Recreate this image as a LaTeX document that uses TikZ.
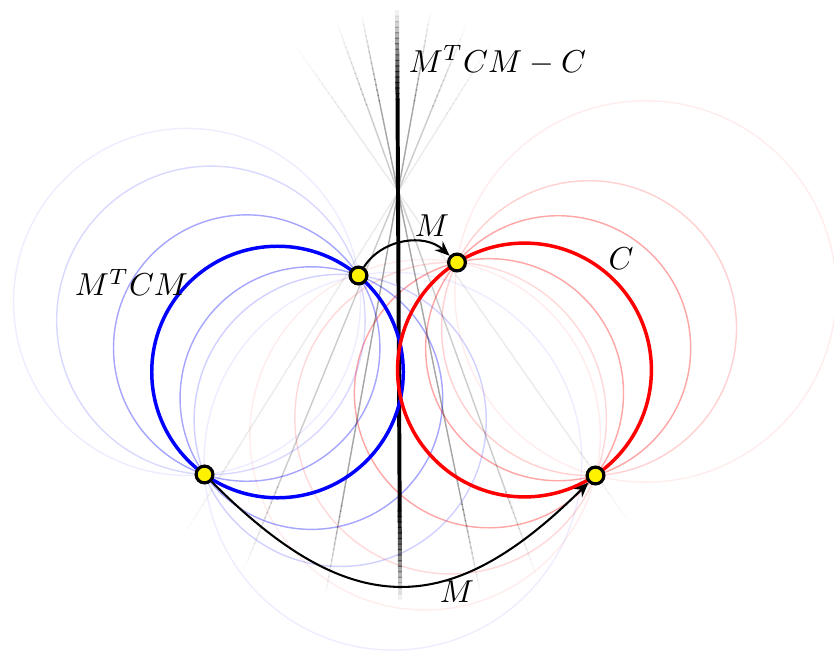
\documentclass[tikz,border=0pt]{standalone}
\usepackage{amsmath, amssymb}
\usepackage{tikz}
\usetikzlibrary{calc, arrows.meta}
\usepackage{tkz-euclide}
\tikzset{
  pencil/.style={line width=0.45pt},
  mapdot/.style={circle, draw=black, fill=yellow, line width=1pt, inner sep=0pt, minimum size=5.3pt},
  maparrow/.style={-{Stealth[length=4.7pt, width=3.8pt]}, line width=0.65pt}
}

\begin{document}
\begin{tikzpicture}[scale=0.554]
                \useasboundingbox (-7.96,-5.64) rectangle (8.72,7.4);
                \tkzDefPoints{-2.41/-0.04/O_b, 2.53/0/O_r, -0.79/1.89/Q_1, -3.87/-2.09/Q_2, 1.18/2.15/P_1, 3.95/-2.11/P_2, 0/3.56/R}
                \tkzDefMidPoint(Q_1,Q_2) \tkzGetPoint{M_b}
                \tkzDefMidPoint(P_1,P_2) \tkzGetPoint{M_r}
                \foreach \k/\o in {0.35/0.35, 0.71/0.15, 0.95/0.07, -0.3/0.35, -0.59/0.18, -1.12/0.07}{
                    \tkzDefPointWith[orthogonal, K=\k](M_b,Q_1) \tkzGetPoint{c}
                    \tkzDrawCircle[pencil, blue, opacity=\o](c,Q_1)
                    \tkzDefPointWith[orthogonal, K=\k](M_r,P_1) \tkzGetPoint{c}
                    \tkzDrawCircle[pencil, red, opacity=\o](c,P_1)
                }
                \foreach \a/\o/\w in {-10.2/0.35/0.45pt, 11.6/0.35/0.45pt, -22.2/0.2/0.45pt, 19.8/0.2/0.45pt, -32/0.08/0.45pt, 35/0.08/0.45pt, 0.3/1/1.25pt}{
                    \coordinate (top) at ($(R)+({90+\a}:3.64)$);
                    \coordinate (bot) at ($(R)+({-90+\a}:8.16)$);
                    \draw[line width=\w, opacity=\o] ($(top)!0.15!(bot)$) -- ($(bot)!0.15!(top)$);
                    \foreach \i in {1,...,16}{
                        \pgfmathsetmacro\op{\o*\i/17}
                        \draw[line width=\w, opacity=\op] ($(top)!{0.15*(\i-1)/16}!(bot)$) -- ($(top)!{0.15*\i/16+0.002}!(bot)$);
                        \draw[line width=\w, opacity=\op] ($(bot)!{0.15*(\i-1)/16}!(top)$) -- ($(bot)!{0.15*\i/16+0.002}!(top)$);
                    }
                }
                \tkzDrawCircle[blue, line width=1.1pt](O_b,Q_2)
                \tkzDrawCircle[red, line width=1.1pt](O_r,P_1)
                \node[mapdot] (q1) at (Q_1) {};
                \node[mapdot] (q2) at (Q_2) {};
                \node[mapdot] (p1) at (P_1) {};
                \node[mapdot] (p2) at (P_2) {};
                \draw[maparrow] (q1) to[bend left=50] (p1);
                \draw[maparrow] (q2) to[bend right=45, looseness=1.33] (p2);
                \node (diff) at (1.99,6.2) {$M^TCM - C$};
                \node (pull) at (-5.33,1.75) {$M^TCM$};
                \node (circ) at (4.46,2.23) {$C$};
                \node (mtop) at (0.68,2.88) {$M$};
                \node (mbot) at (1.18,-4.44) {$M$};
\end{tikzpicture}
\end{document}
